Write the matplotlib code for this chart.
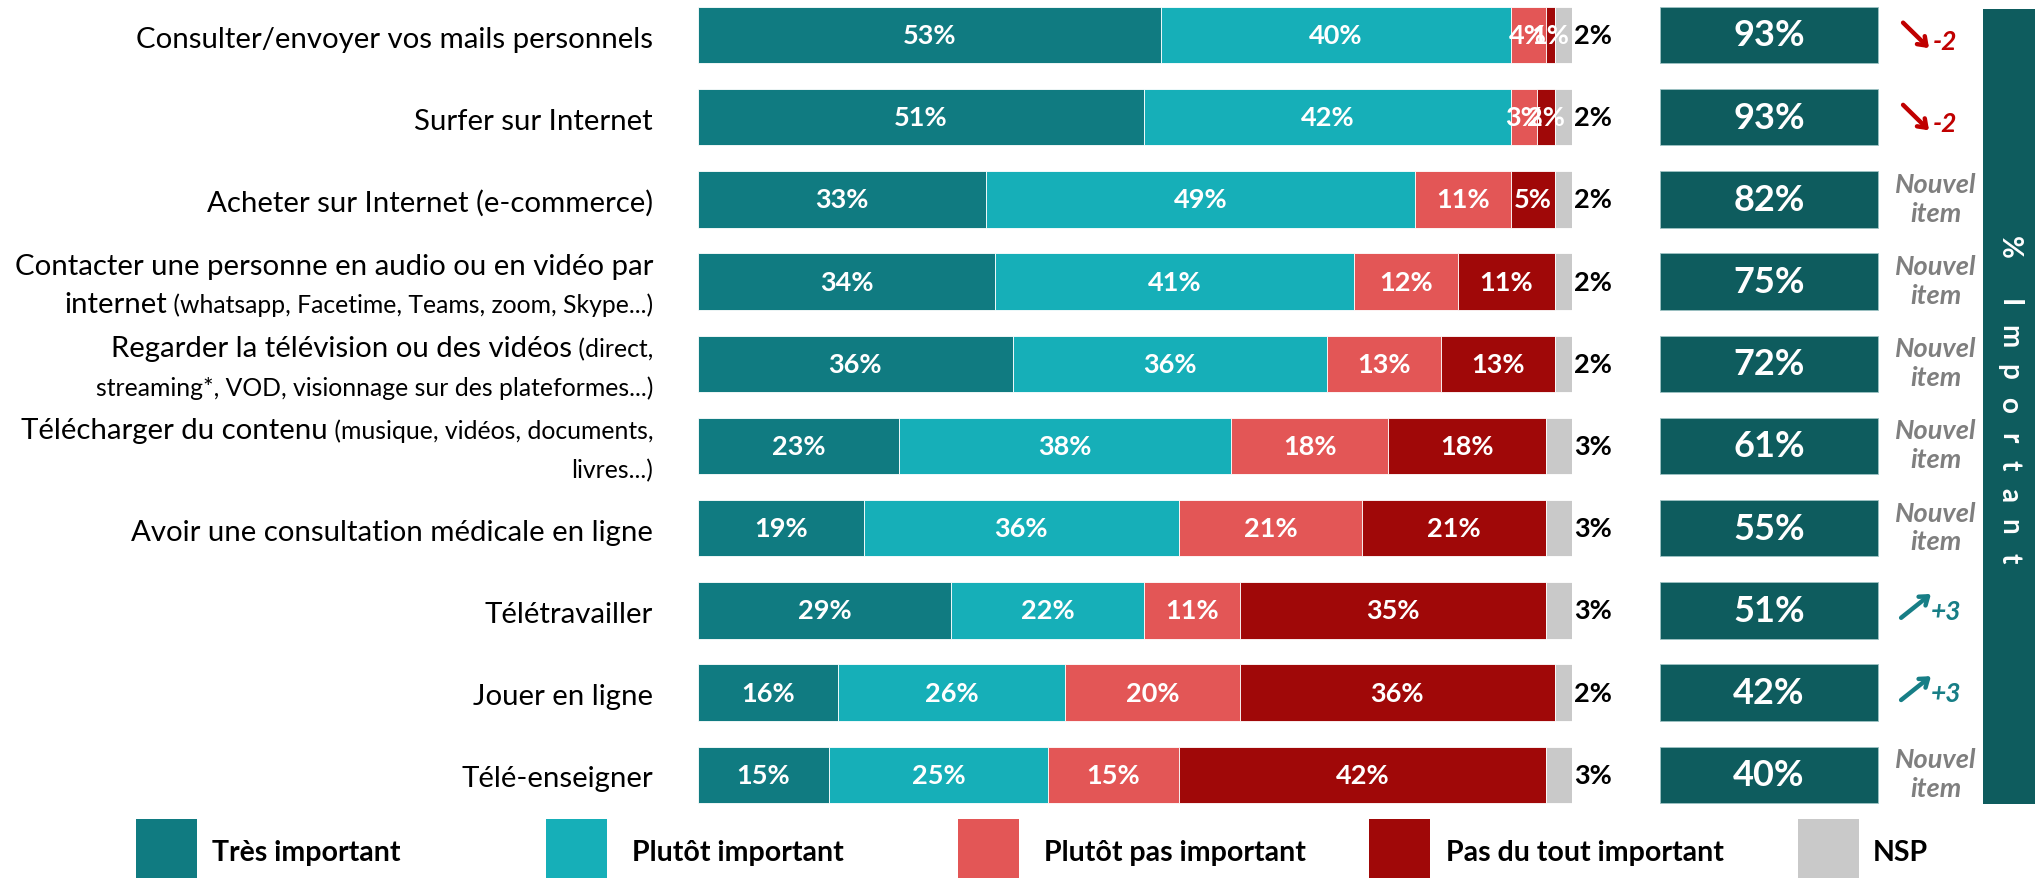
import numpy as np
import matplotlib.pyplot as plt
from matplotlib import transforms
from matplotlib.patches import Rectangle

plt.rcParams['font.family'] = ['Lato', 'DejaVu Sans']

# --- data -------------------------------------------------------------
# each label: list of lines, each line: list of (text, is_small)
labels = [
    [[("Consulter/envoyer vos mails personnels", 0)]],
    [[("Surfer sur Internet", 0)]],
    [[("Acheter sur Internet (e-commerce)", 0)]],
    [[("Contacter une personne en audio ou en vidéo par", 0)],
     [("internet", 0), (" (whatsapp, Facetime, Teams, zoom, Skype...)", 1)]],
    [[("Regarder la télévision ou des vidéos", 0), (" (direct,", 1)],
     [("streaming*, VOD, visionnage sur des plateformes...)", 1)]],
    [[("Télécharger du contenu", 0), (" (musique, vidéos, documents,", 1)],
     [("livres...)", 1)]],
    [[("Avoir une consultation médicale en ligne", 0)]],
    [[("Télétravailler", 0)]],
    [[("Jouer en ligne", 0)]],
    [[("Télé-enseigner", 0)]],
]
tres_important = [53, 51, 33, 34, 36, 23, 19, 29, 16, 15]
plutot_important = [40, 42, 49, 41, 36, 38, 36, 22, 26, 25]
plutot_pas = [4, 3, 11, 12, 13, 18, 21, 11, 20, 15]
pas_du_tout = [1, 2, 5, 11, 13, 18, 21, 35, 36, 42]
nsp = [2, 2, 2, 2, 2, 3, 3, 3, 2, 3]
total_important = [93, 93, 82, 75, 72, 61, 55, 51, 42, 40]
evolution = [-2, -2, None, None, None, None, None, 3, 3, None]
legend_labels = ['Très important', 'Plutôt important', 'Plutôt pas important',
                 'Pas du tout important', 'NSP']

colors = ['#107B81', '#16AFB8', '#E35656', '#A00808', '#C9C9C9']
box_color = '#0E5C5E'
red = '#C00000'
teal = '#177E86'

W, H = 2035, 879
fig = plt.figure(figsize=(W / 100, H / 100), dpi=100)

# bar axes: 100% spans pixel 698 -> 1572, rows centred at 36 + 82.2*i
row_px, top_px = 82.2, 36
bot_px = 817
ax = fig.add_axes([698 / W, 1 - bot_px / H, 874 / W, bot_px / H])
ax.set_xlim(0, 100)
ax.set_ylim((bot_px - top_px) / row_px, -top_px / row_px)
ax.axis('off')

y = np.arange(len(labels))
series = [tres_important, plutot_important, plutot_pas, pas_du_tout, nsp]
left = np.zeros(len(labels))
for k, (vals, col) in enumerate(zip(series, colors)):
    vals = np.array(vals, dtype=float)
    ax.barh(y, vals, left=left, height=0.685, color=col,
            edgecolor='white', linewidth=0.6)
    for i in range(len(y)):
        if k < 4:
            ax.text(left[i] + vals[i] / 2, y[i], f"{int(vals[i])}%",
                    ha='center', va='center', color='white',
                    fontsize=19.5, fontweight='bold')
        else:
            ax.text(left[i] + vals[i] + 0.2, y[i], f"{int(vals[i])}%",
                    ha='left', va='center', color='black',
                    fontsize=19.5, fontweight='bold')
    left += vals

# row labels (right aligned, mixed sizes)
renderer = fig.canvas.get_renderer()
tr = transforms.blended_transform_factory(fig.transFigure, ax.transData)
x_right = 653 / W
big, small = 21.2, 17.8
for i, lines in enumerate(labels):
    n = len(lines)
    offs = [0.0] if n == 1 else [-0.235, 0.235]
    for line, off in zip(lines, offs):
        xr = x_right
        for txt, is_small in reversed(line):
            t = ax.text(xr, i + off + 0.14, txt, transform=tr, ha='right',
                        va='baseline', fontsize=small if is_small else big,
                        color='black')
            bb = t.get_window_extent(renderer)
            xr -= bb.width / W

# right column: total important boxes + evolution
ax2 = fig.add_axes([1660 / W, 1 - bot_px / H, (W - 1660) / W, bot_px / H])
ax2.set_xlim(0, (W - 1660) / 218)
ax2.set_ylim(ax.get_ylim())
ax2.axis('off')
ax2.barh(y, np.ones(len(y)), height=0.685, color=box_color,
         edgecolor='#9FC3C4', linewidth=0.6)
for i, v in enumerate(total_important):
    ax2.text(0.5, i, f"{v}%", ha='center', va='center', color='white',
             fontsize=26, fontweight='bold')
    ev = evolution[i]
    if ev is None:
        ax2.text(1.265, i - 0.19, "Nouvel", ha='center', va='center',
                 color='#7F7F7F', fontsize=19.5, fontweight='bold', style='italic')
        ax2.text(1.265, i + 0.16, "item", ha='center', va='center',
                 color='#7F7F7F', fontsize=19.5, fontweight='bold', style='italic')
    else:
        col = red if ev < 0 else teal
        if ev < 0:
            start, end = (1.115, i - 0.15), (1.234, i + 0.16)
            tx, ty = 1.252, i + 0.07
        else:
            start, end = (1.106, i + 0.09), (1.243, i - 0.20)
            tx, ty = 1.243, i + 0.01
        ax2.annotate('', xy=end, xytext=start,
                     arrowprops=dict(arrowstyle='->,head_length=0.55,head_width=0.4',
                                     color=col, lw=3.2, shrinkA=0, shrinkB=0))
        ax2.text(tx, ty, f"{ev:+d}", ha='left', va='center', color=col,
                 fontsize=19, fontweight='bold', style='italic')

# vertical "% Important" band
fig.add_artist(Rectangle((1983 / W, 1 - 805 / H), (W - 1983) / W, 795 / H,
                         transform=fig.transFigure, color=box_color, lw=0))
letters = ['%', 'I', 'm', 'p', 'o', 'r', 't', 'a', 'n', 't']
letter_y = [247, 303, 337, 372, 405, 438, 465, 495, 527, 558]
for ch, ly in zip(letters, letter_y):
    fig.text(2009 / W, 1 - ly / H, ch, rotation=-90, ha='center', va='center',
             color='white', fontsize=20, fontweight='bold')

# legend
leg_box_x = [136, 546, 958, 1369, 1798]
leg_txt_x = [212, 632, 1044, 1446, 1873]
for lab, col, bx, tx in zip(legend_labels, colors, leg_box_x, leg_txt_x):
    fig.add_artist(Rectangle((bx / W, 0), 61 / W, 59 / H,
                             transform=fig.transFigure, color=col, lw=0))
    fig.text(tx / W, 1 - 853 / H, lab, ha='left', va='center',
             fontsize=20.5, fontweight='bold', color='black')

fig.savefig('out.png', dpi=100)
